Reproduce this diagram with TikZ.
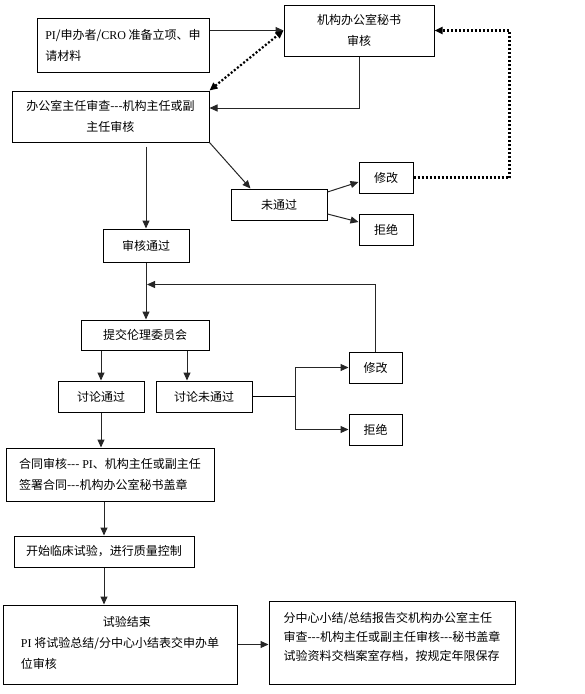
\documentclass[tikz,border=0pt]{standalone}
\usepackage{fontspec}
\setmainfont{Noto Sans CJK SC}[Ligatures=NoCommon]
\newfontfamily\tnr{Liberation Serif}
\usetikzlibrary{arrows.meta,calc}
\tikzset{
  box/.style={draw=black,line width=1pt,inner sep=0pt,align=center,
    font=\fontsize{12pt}{21pt}\selectfont},
  boxl/.style={box,align=left},
  arr/.style={-{Triangle[length=8pt,width=7pt]},line width=1pt,draw=black!85},
  dotl/.style={line width=2.2pt,dash pattern=on 2pt off 2pt,draw=black},
}
\begin{document}
\begin{tikzpicture}[x=1pt,y=-1pt]
\useasboundingbox (0,0) rectangle (585,694);
% boxes
\node[boxl,minimum width=172pt,minimum height=54pt] (pi) at (123,45)
  {{\tnr PI}/申办者/{\tnr CRO} 准备立项、申\\请材料};
\node[box,minimum width=150pt,minimum height=51pt] (jg) at (359,30.5)
  {机构办公室秘书\\审核};
\node[box,minimum width=197pt,minimum height=51pt] (bgs) at (110.5,116.5)
  {办公室主任审查-{}-{}-机构主任或副\\主任审核};
\node[box,minimum width=96pt,minimum height=31pt] (wtg) at (279,204.5) {未通过};
\node[box,minimum width=54pt,minimum height=31pt] (xg1) at (386,177.5) {修改};
\node[box,minimum width=54pt,minimum height=31pt] (jj1) at (386,229.5) {拒绝};
\node[box,minimum width=86pt,minimum height=33pt] (shtg) at (146,245.5) {审核通过};
\node[box,minimum width=128pt,minimum height=30pt] (tj) at (145,335) {提交伦理委员会};
\node[box,minimum width=86pt,minimum height=31pt] (tltg) at (101,396.5) {讨论通过};
\node[box,minimum width=96pt,minimum height=31pt] (tlwtg) at (204,396.5) {讨论未通过};
\node[box,minimum width=53pt,minimum height=31pt] (xg2) at (375.5,367.5) {修改};
\node[box,minimum width=53pt,minimum height=31pt] (jj2) at (375.5,429.5) {拒绝};
\node[boxl,minimum width=208pt,minimum height=53pt] (ht) at (110,474.5)
  {合同审核-{}-{}- {\tnr PI}、机构主任或副主任\\签署合同-{}-{}-机构办公室秘书盖章};
\node[box,minimum width=180pt,minimum height=31pt] (ks) at (104,551.5)
  {开始临床试验，进行质量控制};
\node[boxl,minimum width=234pt,minimum height=79pt,text depth=4pt] (js) at (120,644.5)
  {\hspace*{82pt}试验结束\\{\tnr PI} 将试验总结/分中心小结表交申办单\\位审核};
\node[boxl,minimum width=246pt,minimum height=83pt,text depth=12pt,
  font=\fontsize{12pt}{19pt}\selectfont] (fzx) at (392,642.5)
  {分中心小结/总结报告交机构办公室主任\\审查-{}-{}-机构主任或副主任审核-{}-{}-秘书盖章\\试验资料交档案室存档，按规定年限保存};
% connectors
\draw[arr] (pi.east |- jg.west) -- (jg.west);
\draw[arr] (jg.south) |- ([yshift=8.5pt]bgs.east);
\draw[dotl,{Triangle[length=8pt,width=7pt]}-{Triangle[length=8pt,width=7pt]}]
  (bgs.north east) -- (jg.west);
\coordinate (dr) at ($(xg1.east)+(96,0)$);
\draw[dotl] (xg1.east) -- (dr);
\draw[dotl,-{Triangle[length=8pt,width=7pt]}] (dr) |- (jg.east);
\draw[arr] (bgs.south east) -- ([xshift=20pt]wtg.north west);
\draw[arr] ([yshift=12.5pt]wtg.east) -- ([yshift=-4.5pt]xg1.west);
\draw[arr] ([yshift=-9.5pt]wtg.east) -- ([yshift=7.5pt]jj1.west);
\draw[arr] ([yshift=-4pt]bgs.south -| shtg.north) -- (shtg.north);
\draw[arr] (shtg.south) -- (shtg.south |- tj.north);
\coordinate (mj) at ($(shtg.south)+(1,22)$);
\draw[arr] (xg2.north) |- (mj);
\draw[arr] (tj.south -| tltg.north) -- (tltg.north);
\coordinate (tw) at ([xshift=-17pt]tlwtg.north);
\draw[arr] (tw |- tj.south) -- (tw);
\coordinate (br) at ($(tlwtg.east)+(43,0)$);
\draw[line width=1pt] (tlwtg.east) -- (br);
\draw[arr] (br) |- (xg2.west);
\draw[arr] (br) |- (jj2.west);
\draw[arr] (tltg.south) -- (tltg.south |- ht.north);
\draw[arr] (ks.north |- ht.south) -- (ks.north);
\draw[arr] (ks.south) -- (ks.south |- js.north);
\draw[arr] (js.east) -- (js.east -| fzx.west);
\end{tikzpicture}
\end{document}
